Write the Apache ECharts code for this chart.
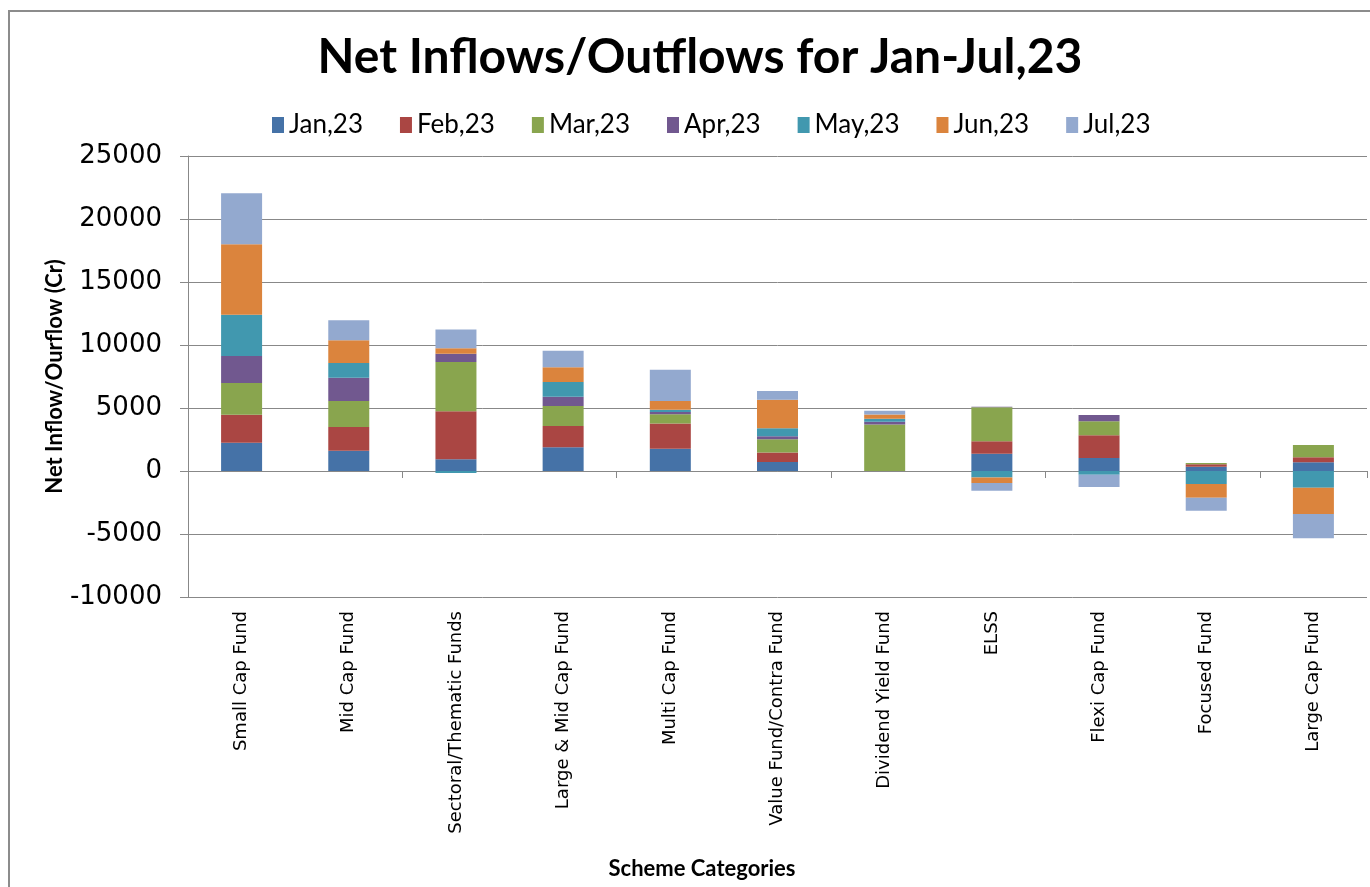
<!DOCTYPE html>
<html>
<head>
<meta charset="utf-8">
<script src="https://cdn.jsdelivr.net/npm/echarts@6/dist/echarts.min.js"></script>
<style>
  html, body { margin: 0; padding: 0; background: #fff; }
  #frame { position: absolute; left: 8px; top: 10px; width: 1362px; height: 877px;
           border-left: 2px solid #8c8c8c; border-top: 2px solid #8c8c8c; box-sizing: border-box; }
  #main { position: absolute; left: 0; top: 0; width: 1370px; height: 887px; }
</style>
</head>
<body>
<div id="frame"></div>
<div id="main"></div>
<script>
// scheme categories (x axis)
var categories = ['Small Cap Fund', 'Mid Cap Fund', 'Sectoral/Thematic Funds', 'Large & Mid Cap Fund',
  'Multi Cap Fund', 'Value Fund/Contra Fund', 'Dividend Yield Fund', 'ELSS', 'Flexi Cap Fund',
  'Focused Fund', 'Large Cap Fund'];

// monthly net flows (Cr)
var jan23 = [2250, 1610, 930, 1880, 1770, 710, 0, 1370, 1030, 330, 690];
var feb23 = [2220, 1880, 3810, 1690, 1990, 750, 0, 990, 1800, 200, 400];
var mar23 = [2510, 2070, 3910, 1590, 740, 1050, 3700, 2690, 1120, 100, 980];
var apr23 = [2150, 1850, 660, 740, 180, 240, 210, 50, 500, 0, 0];
var may23 = [3280, 1160, -150, 1160, 190, 640, 240, -520, -290, -1030, -1320];
var jun23 = [5580, 1800, 430, 1170, 690, 2270, 330, -440, 0, -1090, -2090];
var jul23 = [4050, 1590, 1500, 1320, 2480, 690, 310, -600, -980, -1030, -1930];

var monthNames = ['Jan,23', 'Feb,23', 'Mar,23', 'Apr,23', 'May,23', 'Jun,23', 'Jul,23'];
var monthData = [jan23, feb23, mar23, apr23, may23, jun23, jul23];
var colors = ['#4572A7', '#AA4643', '#89A54E', '#71588F', '#4198AF', '#DB843D', '#93A9CF'];

var series = monthNames.map(function (name, i) {
  return {
    name: name,
    type: 'bar',
    stack: 'flows',
    barWidth: 41,
    data: monthData[i],
    itemStyle: { color: colors[i] }
  };
});

var myChart = echarts.init(document.getElementById('main'));
myChart.setOption({
  animation: false,
  color: colors,
  title: [{
    text: 'Net Inflows/Outflows for Jan-Jul,23',
    left: 695, top: 29, textAlign: 'center',
    textStyle: { fontFamily: 'Lato', fontWeight: 'bold', fontSize: 48, color: '#000' }
  }, {
    text: 'Scheme Categories',
    left: 697, top: 853, textAlign: 'center',
    textStyle: { fontFamily: 'Lato', fontWeight: 'bold', fontSize: 22, color: '#000' }
  }],
  legend: {
    top: 107, left: 267,
    itemWidth: 12, itemHeight: 16, itemGap: 37,
    icon: 'rect',
    textStyle: { fontFamily: 'Lato', fontSize: 26, color: '#000' },
    data: monthNames
  },
  grid: { left: 188, right: 3, top: 156, bottom: 290 },
  xAxis: [{
    type: 'category',
    data: categories,
    axisLine: { onZero: true, lineStyle: { color: '#888', width: 1 } },
    axisTick: { show: true, length: 7, lineStyle: { color: '#888' } },
    axisLabel: { show: false }
  }, {
    type: 'category',
    data: categories,
    position: 'bottom',
    axisLine: { show: false, onZero: false },
    axisTick: { show: false },
    axisLabel: {
      rotate: 90, margin: 14,
      fontFamily: 'DejaVu Sans', fontSize: 18, color: '#000'
    }
  }],
  yAxis: {
    type: 'value',
    min: -10000, max: 25000, interval: 5000,
    name: 'Net Inflow/Ourflow (Cr)',
    nameLocation: 'middle', nameGap: 122,
    nameMoveOverlap: false,
    nameTextStyle: { fontFamily: 'Lato', fontWeight: 'bold', fontSize: 22, color: '#000' },
    axisLine: { show: true, lineStyle: { color: '#888' } },
    axisTick: { show: true, length: 8, lineStyle: { color: '#888' } },
    axisLabel: {
      margin: 26, fontFamily: 'DejaVu Sans', fontSize: 26, color: '#000',
      formatter: function (v) { return String(v); }
    },
    splitLine: { lineStyle: { color: '#888', width: 1 } }
  },
  series: series
});
</script>
</body>
</html>
